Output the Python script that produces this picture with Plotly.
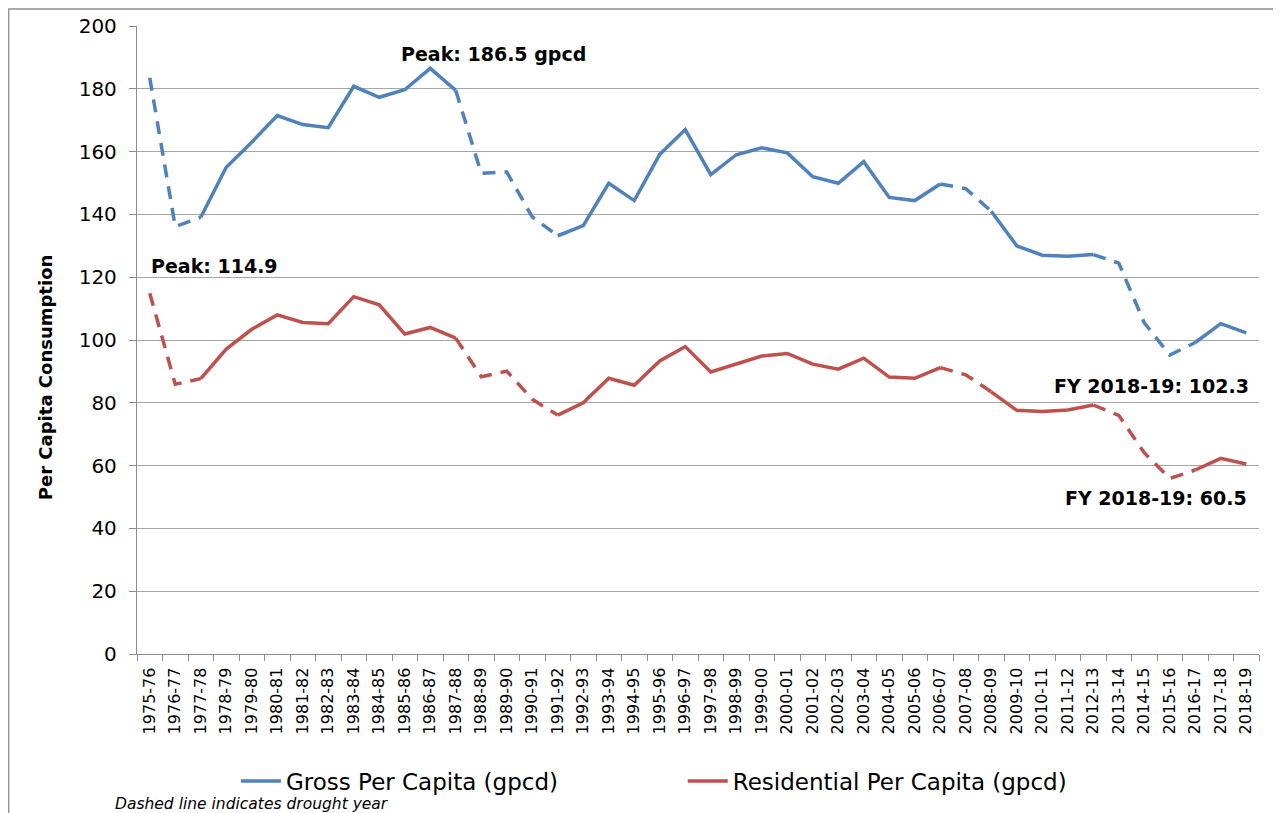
import plotly.graph_objects as go

categories = [
    "1975-76", "1976-77", "1977-78", "1978-79", "1979-80", "1980-81", "1981-82", "1982-83",
    "1983-84", "1984-85", "1985-86", "1986-87", "1987-88", "1988-89", "1989-90", "1990-91",
    "1991-92", "1992-93", "1993-94", "1994-95", "1995-96", "1996-97", "1997-98", "1998-99",
    "1999-00", "2000-01", "2001-02", "2002-03", "2003-04", "2004-05", "2005-06", "2006-07",
    "2007-08", "2008-09", "2009-10", "2010-11", "2011-12", "2012-13", "2013-14", "2014-15",
    "2015-16", "2016-17", "2017-18", "2018-19",
]

gross = [
    183.5, 136.1, 139.1, 155.0, 163.0, 171.5, 168.6, 167.6,
    180.8, 177.3, 179.7, 186.5, 179.5, 153.1, 153.5, 139.2,
    133.2, 136.4, 149.9, 144.4, 159.1, 167.0, 152.7, 159.0,
    161.2, 159.6, 152.0, 149.9, 156.8, 145.4, 144.4, 149.7,
    148.2, 141.0, 130.0, 127.0, 126.7, 127.2, 124.5, 105.5,
    95.2, 99.2, 105.2, 102.3,
]

residential = [
    114.9, 85.9, 87.7, 97.1, 103.4, 108.0, 105.6, 105.2,
    113.8, 111.2, 101.9, 104.0, 100.6, 88.3, 90.1, 81.1,
    76.1, 80.0, 87.8, 85.6, 93.3, 97.9, 89.8, 92.3,
    94.9, 95.7, 92.3, 90.7, 94.2, 88.2, 87.8, 91.2,
    88.9, 83.5, 77.6, 77.2, 77.7, 79.3, 76.0, 64.1,
    55.9, 58.6, 62.3, 60.5,
]

# line segments ending at these years are drawn dashed (drought years)
drought_years = [
    "1976-77", "1977-78", "1988-89", "1989-90", "1990-91", "1991-92",
    "2007-08", "2008-09", "2013-14", "2014-15", "2015-16", "2016-17",
]

y_ticks = [0, 20, 40, 60, 80, 100, 120, 140, 160, 180, 200]

BLUE = "#4F81BD"
RED = "#C0504D"

n = len(categories)
dash_seg = [False] + [categories[i] in drought_years for i in range(1, n)]


def split(values):
    solid, dashed = [], []
    for i in range(n):
        into_d = dash_seg[i] if i >= 1 else False
        out_d = dash_seg[i + 1] if i + 1 < n else False
        into_s = (i >= 1) and not dash_seg[i]
        out_s = (i + 1 < n) and not dash_seg[i + 1]
        dashed.append(values[i] if (into_d or out_d) else None)
        solid.append(values[i] if (into_s or out_s) else None)
    return solid, dashed


fig = go.Figure()
for name, vals, color, leg in [
    ("Gross Per Capita (gpcd)", gross, BLUE, "legend"),
    ("Residential Per Capita (gpcd)", residential, RED, "legend2"),
]:
    s, d = split(vals)
    fig.add_trace(go.Scatter(
        x=categories, y=s, mode="lines", name=name, connectgaps=False,
        line=dict(color=color, width=3.5), legend=leg,
    ))
    fig.add_trace(go.Scatter(
        x=categories, y=d, mode="lines", name=name, connectgaps=False, showlegend=False,
        line=dict(color=color, width=3.5, dash="13px,9px"), legend=leg,
    ))

# page offset of the plot div (browser body margin)
OFF = 8
W, H = 1281 - OFF, 813 - OFF
# plot area in page pixels
L, R, T, B = 137, 1259.5, 25.7, 654
PW, PH = R - L, B - T


def px(xp):
    return (xp - L) / PW


def py(yp):
    return (B - yp) / PH


fig.update_layout(
    width=W, height=H,
    margin=dict(l=L - OFF, r=1281 - R, t=T - OFF, b=813 - B, autoexpand=False),
    paper_bgcolor="white", plot_bgcolor="white",
    font=dict(family="DejaVu Sans", color="black"),
    xaxis=dict(
        type="category", categoryorder="array", categoryarray=categories,
        tickmode="array", tickvals=categories, ticktext=categories,
        tickangle=-90, tickfont=dict(family="DejaVu Sans", size=16, color="black"),
        showline=True, linecolor="#8c8c8c", linewidth=1.3,
        ticks="outside", ticklen=6, tickcolor="#8c8c8c", tickwidth=1.3,
        ticklabelstandoff=6,
        tickson="boundaries", showgrid=False, automargin=False,
        range=[-0.5, n - 0.5],
    ),
    yaxis=dict(
        range=[0, 200], tickmode="array", tickvals=y_ticks,
        tickfont=dict(family="DejaVu Sans", size=20, color="black"),
        showline=True, linecolor="#8c8c8c", linewidth=1.3,
        ticks="outside", ticklen=7, tickcolor="#8c8c8c", tickwidth=1.3,
        ticklabelstandoff=8,
        showgrid=True, gridcolor="#a6a6a6", gridwidth=1.3,
        zeroline=False, automargin=False,
    ),
    legend=dict(
        orientation="h", x=px(236), xanchor="left", y=py(781), yanchor="middle",
        font=dict(family="DejaVu Sans", size=23, color="black"),
        itemwidth=40, bgcolor="rgba(0,0,0,0)",
    ),
    legend2=dict(
        orientation="h", x=px(683), xanchor="left", y=py(781), yanchor="middle",
        font=dict(family="DejaVu Sans", size=23, color="black"),
        itemwidth=40, bgcolor="rgba(0,0,0,0)",
    ),
    showlegend=True,
)

ann_font = dict(family="DejaVu Sans", size=19, color="black")
fig.add_annotation(text="<b>Peak: 186.5 gpcd</b>", xref="paper", yref="paper",
                   x=px(399), y=py(53.5), xanchor="left", yanchor="middle",
                   showarrow=False, font=ann_font)
fig.add_annotation(text="<b>Peak: 114.9</b>", xref="paper", yref="paper",
                   x=px(149), y=py(265.7), xanchor="left", yanchor="middle",
                   showarrow=False, font=ann_font)
fig.add_annotation(text="<b>FY 2018-19: 102.3</b>", xref="paper", yref="paper",
                   x=px(1251), y=py(386), xanchor="right", yanchor="middle",
                   showarrow=False, font=ann_font)
fig.add_annotation(text="<b>FY 2018-19: 60.5</b>", xref="paper", yref="paper",
                   x=px(1249), y=py(498.3), xanchor="right", yanchor="middle",
                   showarrow=False, font=ann_font)
fig.add_annotation(text="<b>Per Capita Consumption</b>", xref="paper", yref="paper",
                   x=px(45), y=py(377), xanchor="center", yanchor="middle",
                   textangle=-90, showarrow=False,
                   font=dict(family="DejaVu Sans", size=18, color="black"))
fig.add_annotation(text="<i>Dashed line indicates drought year</i>", xref="paper", yref="paper",
                   x=px(113), y=py(804), xanchor="left", yanchor="middle",
                   showarrow=False,
                   font=dict(family="DejaVu Sans", size=15.5, color="black"))

# outer chart frame
fig.add_shape(type="rect", xref="paper", yref="paper",
              x0=px(OFF + 0.7), x1=px(1279.3), y0=py(840), y1=py(OFF + 0.7),
              line=dict(color="#8c8c8c", width=1.3), fillcolor="rgba(0,0,0,0)", layer="below")

fig.write_html("out.html")
